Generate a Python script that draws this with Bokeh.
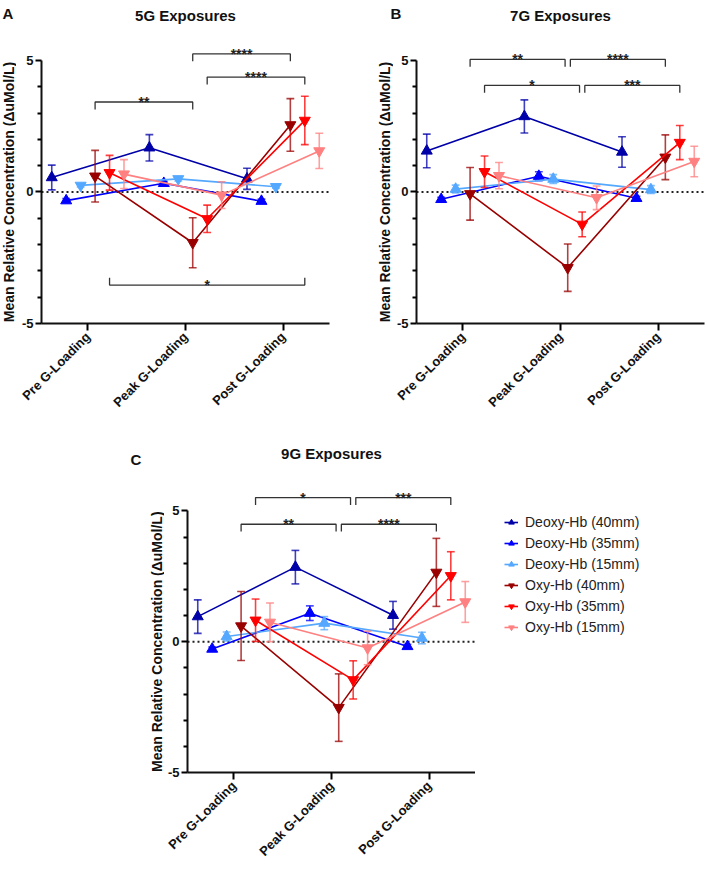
import math
from bokeh.plotting import figure
from bokeh.models import (FixedTicker, Span, Legend, LegendItem, Range1d, Spacer)
from bokeh.layouts import column, row
from bokeh.embed import file_html
from bokeh.resources import INLINE
from bokeh.core.properties import value

# ---------------- data ----------------
categories = ["Pre G-Loading", "Peak G-Loading", "Post G-Loading"]
series_names = ["Deoxy-Hb (40mm)", "Deoxy-Hb (35mm)", "Deoxy-Hb (15mm)",
                "Oxy-Hb (40mm)", "Oxy-Hb (35mm)", "Oxy-Hb (15mm)"]
series_colors = ["#0000A8", "#0000FF", "#55A8FF", "#990000", "#FF0000", "#FF8080"]

# 5G exposures (panel A): mean and SEM for [pre, peak, post]
a_means = [[0.55, 1.68, 0.50], [-0.33, 0.33, -0.35], [0.25, 0.50, 0.20],
           [0.60, -1.93, 2.55], [0.73, -1.02, 2.72], [0.68, -0.12, 1.56]]
a_sems = [[0.47, 0.50, 0.40], [0.08, 0.08, 0.08], [0.06, 0.08, 0.06],
          [0.98, 0.95, 1.00], [0.66, 0.52, 0.92], [0.55, 0.51, 0.67]]
a_markers = ["triangle", "triangle", "inverted_triangle",
             "inverted_triangle", "inverted_triangle", "inverted_triangle"]
# brackets: (from category, to category, series index, level, label)
a_brackets = [(1, 2, 3, 3.42, "**"), (2, 3, 3, 5.25, "****"),
              (2, 3, 4, 4.37, "****"), (1, 3, 4, -3.54, "*")]

# 7G exposures (panel B)
b_means = [[1.56, 2.87, 1.52], [-0.28, 0.60, -0.24], [0.11, 0.49, 0.09],
           [-0.07, -2.88, 1.32], [0.77, -1.23, 1.88], [0.62, -0.22, 1.16]]
b_sems = [[0.64, 0.63, 0.58], [0.08, 0.17, 0.08], [0.15, 0.17, 0.15],
          [1.00, 0.90, 0.85], [0.60, 0.47, 0.65], [0.50, 0.45, 0.58]]
b_markers = ["triangle", "triangle", "triangle",
             "inverted_triangle", "inverted_triangle", "inverted_triangle"]
b_brackets = [(1, 2, 3, 5.04, "**"), (2, 3, 3, 5.04, "****"),
              (1, 2, 4, 4.05, "*"), (2, 3, 4, 4.05, "***")]

# 9G exposures (panel C)
c_means = [[0.96, 2.85, 1.01], [-0.28, 1.09, -0.18], [0.20, 0.71, 0.14],
           [0.60, -2.52, 2.65], [0.82, -1.46, 2.52], [0.74, -0.24, 1.52]]
c_sems = [[0.64, 0.64, 0.53], [0.08, 0.28, 0.08], [0.17, 0.25, 0.22],
          [1.32, 1.29, 1.30], [0.81, 0.73, 0.92], [0.74, 0.64, 0.78]]
c_markers = ["triangle", "triangle", "triangle",
             "inverted_triangle", "inverted_triangle", "inverted_triangle"]
c_brackets = [(1, 2, 4, 5.51, "*"), (2, 3, 4, 5.51, "***"),
              (1, 2, 3, 4.49, "**"), (2, 3, 3, 4.49, "****")]

y_tick_values = [-5, 0, 5]
y_tick_labels = ["-5", "0", "5"]
y_minor_values = [-4, -3, -2, -1, 1, 2, 3, 4]
y_label = "Mean Relative Concentration (\u0394uMol/L)"

# ---------------- style / layout constants ----------------
FONT = "Liberation Sans"
OFFSETS = [-0.37, -0.222, -0.074, 0.074, 0.222, 0.37]
CAP = 0.04
TICK_LEN = 0.28
FRAME_W = 288
INK = "#111111"


def blank(width, height, y_range=None):
    s = figure(width=width, height=height, title=None,
               x_range=Range1d(0, width),
               y_range=y_range if y_range is not None else Range1d(0, height),
               output_backend="svg", toolbar_location=None,
               x_axis_location=None, y_axis_location=None, min_border=0)
    s.grid.visible = False
    s.outline_line_color = None
    s.background_fill_color = "white"
    s.border_fill_color = "white"
    return s


def top_strip(width, height, letter, letter_x, letter_y, title, title_x, title_y):
    s = blank(width, height)
    s.text(x=[letter_x], y=[letter_y], text=[letter], text_align="left",
           text_baseline="top", text_font=value(FONT), text_font_style="bold",
           text_font_size="15px", text_color=INK)
    s.text(x=[title_x], y=[title_y], text=[title], text_align="center",
           text_baseline="middle", text_font=value(FONT), text_font_style="bold",
           text_font_size="15px", text_color=INK)
    return s


def ylab_strip(width, height, x, y_end):
    # shares the panel's vertical scale (frames are aligned in a row)
    s = blank(width, height, Range1d(-5, y_end))
    s.text(x=[x], y=[0], text=[y_label], angle=math.pi / 2, text_align="center",
           text_baseline="middle", text_font=value(FONT), text_font_style="bold",
           text_font_size="14px", text_color=INK)
    return s


def make_panel(means, sems, markers, brackets, gap, y_end, width, height,
               left, right, bottom):
    p = figure(width=width, height=height, title=None,
               x_range=Range1d(0.525, 3.475), y_range=Range1d(-5, y_end),
               output_backend="svg", toolbar_location=None, min_border=0,
               min_border_left=left, min_border_right=right,
               min_border_top=0, min_border_bottom=bottom)
    p.grid.visible = False
    p.outline_line_color = None
    p.background_fill_color = "white"
    p.border_fill_color = "white"

    p.add_layout(Span(location=0, dimension="width", line_color="#222222",
                      line_width=2, line_dash="2 3", level="underlay"))

    for i in range(6):
        xs = [c + 1 + OFFSETS[i] for c in range(3)]
        m = means[i]
        s = sems[i]
        hi = [a + b for a, b in zip(m, s)]
        lo = [a - b for a, b in zip(m, s)]
        col = series_colors[i]
        p.line(xs, m, line_color=col, line_width=1.6)
        p.segment(x0=xs, y0=lo, x1=xs, y1=hi, line_color=col, line_width=1.6, line_alpha=0.75)
        p.segment(x0=[x - CAP for x in xs], y0=hi, x1=[x + CAP for x in xs], y1=hi,
                  line_color=col, line_width=1.6, line_alpha=0.75)
        p.segment(x0=[x - CAP for x in xs], y0=lo, x1=[x + CAP for x in xs], y1=lo,
                  line_color=col, line_width=1.6, line_alpha=0.75)
        p.scatter(xs, m, marker=markers[i], size=11, fill_color=col, line_color=col)

    bxs, bys, tx, ty, tt = [], [], [], [], []
    for (c0, c1, si, lvl, lab) in brackets:
        x0 = c0 + OFFSETS[si]
        x1 = c1 + OFFSETS[si]
        if c0 == 2:
            x0 += gap
        if c1 == 2:
            x1 -= gap
        t = -TICK_LEN if lvl > 0 else TICK_LEN
        bxs.append([x0, x0, x1, x1])
        bys.append([lvl + t, lvl, lvl, lvl + t])
        tx.append((x0 + x1) / 2)
        ty.append(lvl)
        tt.append(lab)
    p.multi_line(xs=bxs, ys=bys, line_color="#333333", line_width=1.3)
    p.text(x=tx, y=ty, text=tt, text_align="center", text_baseline="alphabetic",
           text_font=value(FONT), text_font_style="bold", text_font_size="14px",
           text_color="#222222")

    ya = p.yaxis[0]
    ya.ticker = FixedTicker(ticks=y_tick_values, minor_ticks=y_minor_values)
    ya.major_label_overrides = dict(zip(y_tick_values, y_tick_labels))
    ya.bounds = (-5, 5)
    ya.major_label_text_font = FONT
    ya.major_label_text_font_style = "bold"
    ya.major_label_text_font_size = "13px"
    ya.major_label_text_color = INK
    ya.major_label_standoff = 2
    ya.axis_line_width = 2
    ya.axis_line_color = INK
    ya.major_tick_line_width = 2
    ya.minor_tick_line_width = 2
    ya.major_tick_out = 6
    ya.major_tick_in = 0
    ya.minor_tick_out = 4
    ya.minor_tick_in = 0

    xa = p.xaxis[0]
    xa.ticker = FixedTicker(ticks=[1, 2, 3])
    xa.major_label_overrides = {i + 1: c for i, c in enumerate(categories)}
    xa.major_label_orientation = math.pi / 4
    xa.major_label_text_font = FONT
    xa.major_label_text_font_style = "bold"
    xa.major_label_text_font_size = "13px"
    xa.major_label_text_color = INK
    xa.major_label_standoff = 4
    xa.axis_line_width = 2
    xa.axis_line_color = INK
    xa.major_tick_line_width = 2
    xa.major_tick_out = 7
    xa.major_tick_in = 0
    xa.minor_tick_line_color = None
    return p


# ---- row 1: panels A and B ----
TOP1 = 28
H1 = 417
YA = 6.215
pA = make_panel(a_means, a_sems, a_markers, a_brackets, 0.0, YA, 338, H1, 25, 25, 122)
pB = make_panel(b_means, b_sems, b_markers, b_brackets, 0.027, YA, 315, H1, 23, 4, 122)
blockA = column(top_strip(354, TOP1, "A", 2, 23.5, "5G Exposures", 185, 13.5),
                row(ylab_strip(16, H1, 8, YA), pA))
blockB = column(top_strip(354, TOP1, "B", 36, 23.5, "7G Exposures", 206, 13.5),
                row(ylab_strip(39, H1, 30.5, YA), pB))

# ---- row 2: panel C with legend ----
TOP2 = 38
H2 = 384
YC = 6.048
pC = make_panel(c_means, c_sems, c_markers, c_brackets, 0.027, YC, 311, H2, 23, 0, 94)

# legend panel (its frame is aligned with panel C's frame);
# the proxy marks sit outside its visible range and only feed the legend glyphs
pL = blank(230, H2)
items = []
for i in range(6):
    col = series_colors[i]
    mk = "triangle" if i < 3 else "inverted_triangle"
    lr = pL.line(x=[-50, -40], y=[-50, -50], line_color=col, line_width=1.6)
    sr = pL.scatter(x=[-45], y=[-50], marker=mk, size=11, fill_color=col, line_color=col)
    items.append(LegendItem(label=series_names[i], renderers=[lr, sr]))
leg = Legend(items=items, location="top_left", border_line_color=None,
             background_fill_alpha=0, padding=0, margin=29, spacing=1,
             label_height=20, glyph_height=20, glyph_width=14, label_standoff=7,
             label_text_font=FONT, label_text_font_size="14px",
             label_text_color="#222222")
pL.add_layout(leg)

blockC = column(top_strip(577, TOP2, "C", 2, 33, "9G Exposures", 203, 30),
                row(ylab_strip(36, H2, 28, YC), pC, pL))

layout = column(row(blockA, blockB), row(Spacer(width=128, height=10), blockC))

open("out.html", "w").write(file_html(layout, INLINE))
